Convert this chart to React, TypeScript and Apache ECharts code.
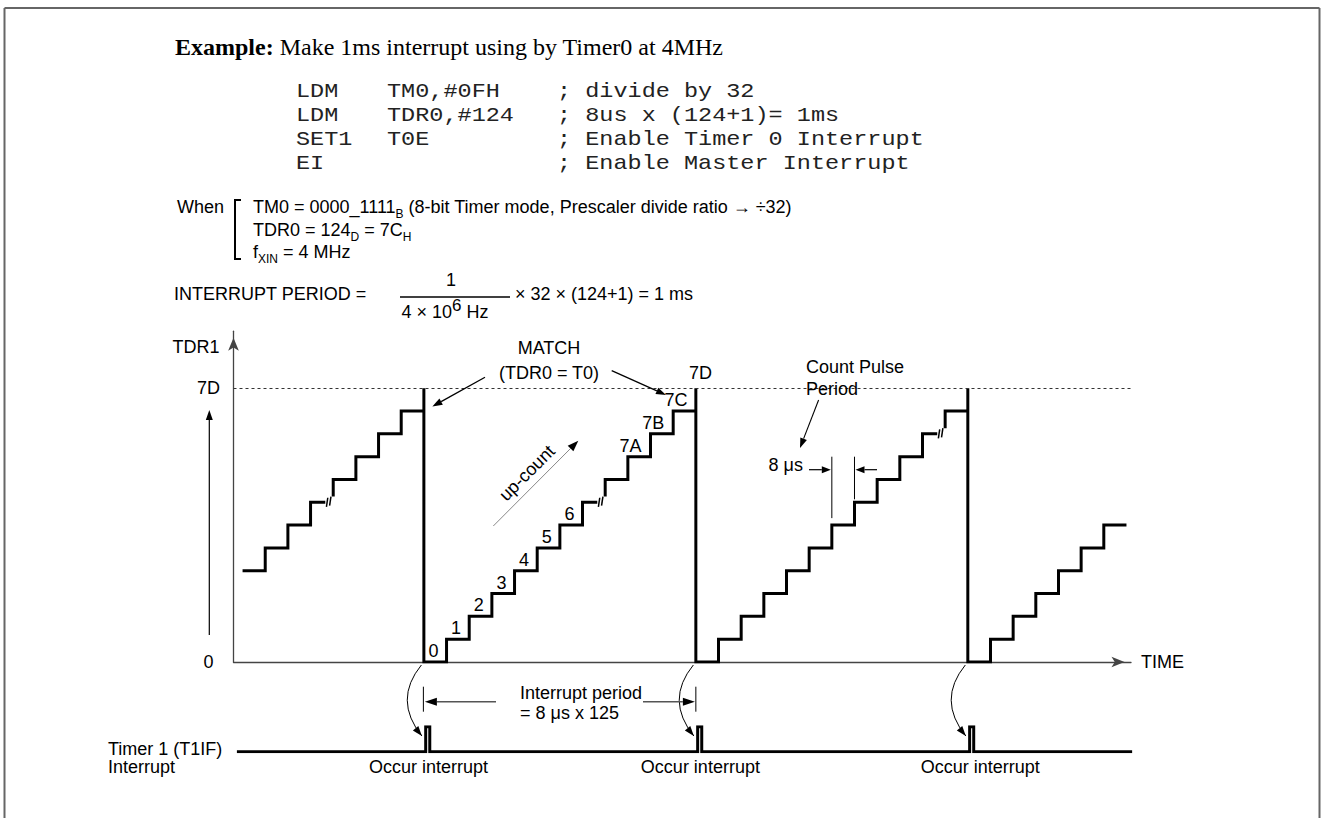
import React, { useEffect, useRef } from 'react';
import * as echarts from 'echarts';

const SANS = 'Liberation Sans, Arial, Helvetica, sans-serif';
const SERIF = 'Liberation Serif, Times New Roman, serif';
const MONO = 'Liberation Mono, Courier New, monospace';

// ---- axes (time in count-pulse periods, counter in steps) ----
const TIME_RANGE = [3.6, 43.2];
const LEVEL_RANGE = [0, 14.5];
const TOP_LEVEL = 12; // 7D
const Y_TICK_VALUES = [0, 12];
const Y_TICK_LABELS = ['0', '7D'];

// ---- counter runs ----
const RUN_STARTS = [4, 12, 24, 36];
const RUN1_LEVELS = [4, 5, 6, 7, 8, 9, 10, 11];
const RUN2_LEVELS = [0, 1, 2, 3, 4, 5, 6, 7, 8, 9, 10, 11];
const RUN3_LEVELS = [0, 1, 2, 3, 4, 5, 6, 7, 8, 9, 10, 11];
const RUN4_LEVELS = [0, 1, 2, 3, 4, 5, 6];
const RUN_BREAK_LEVEL = [7, 7, 10, -1];
const MATCH_TIMES = [12, 24, 36];

const STEP_LABELS = ['0', '1', '2', '3', '4', '5', '6', '7A', '7B', '7C'];
const STEP_LABEL_LEVELS = [0, 1, 2, 3, 4, 5, 6, 9, 10, 11];

// ---- interrupt flag ----
const INTERRUPT_SPAN = [3.75, 43.25];
const PULSE_DELAY = 0.08;
const PULSE_WIDTH = 0.18;
const OCCUR_LABEL_TIMES = [12.2, 24.2, 36.55];

// ---- texts ----
const HEADER = '{b|Example:} Make 1ms interrupt using by Timer0 at 4MHz';
const CODE_OPS = ['LDM', 'LDM', 'SET1', 'EI'];
const CODE_ARGS = ['TM0,#0FH', 'TDR0,#124', 'T0E', ''];
const CODE_COMMENTS = ['; divide by 32', '; 8us x (124+1)= 1ms', '; Enable Timer 0 Interrupt', '; Enable Master Interrupt'];
const WHEN_LINES = [
  'TM0 = 0000_1111{s|B} (8-bit Timer mode, Prescaler divide ratio \u2192 \u00f732)',
  'TDR0 = 124{s|D} = 7C{s|H}',
  'f{s|XIN} = 4 MHz',
];

function buildStairs() {
  const runs = [RUN1_LEVELS, RUN2_LEVELS, RUN3_LEVELS, RUN4_LEVELS];
  const pts: any[] = [];
  const marks: any[] = [];
  runs.forEach((levels, r) => {
    const t0 = RUN_STARTS[r];
    levels.forEach((lv, i) => {
      const ta = t0 + i;
      const tb = ta + 1;
      pts.push([ta, lv]);
      if (lv === RUN_BREAK_LEVEL[r]) {
        pts.push([tb - 0.35, lv], [tb - 0.2, '-'], [tb, lv + 0.25]);
        marks.push({ coords: [[tb - 0.3, lv - 0.2], [tb - 0.24, lv + 0.2]] });
        marks.push({ coords: [[tb - 0.16, lv - 0.15], [tb - 0.1, lv + 0.25]] });
      } else {
        pts.push([tb, lv]);
      }
    });
    if (r < MATCH_TIMES.length) {
      pts.push([MATCH_TIMES[r], TOP_LEVEL], [MATCH_TIMES[r], 0]);
    }
  });
  return { pts, marks };
}

function buildInterrupt() {
  const pts: any[] = [[INTERRUPT_SPAN[0], 0]];
  MATCH_TIMES.forEach((m) => {
    const a = m + PULSE_DELAY;
    const b = a + PULSE_WIDTH;
    pts.push([a, 0], [a, 1], [b, 1], [b, 0]);
  });
  pts.push([INTERRUPT_SPAN[1], 0]);
  return pts;
}

function buildOption() {
  const { pts, marks } = buildStairs();
  const labelData = STEP_LABELS.map((s, i) => ({
    name: s,
    value: [RUN_STARTS[1] + STEP_LABEL_LEVELS[i] + (s.length > 1 ? 0.12 : 0.42), STEP_LABEL_LEVELS[i]],
  }));
  labelData.push({ name: '7D', value: [MATCH_TIMES[1] + 0.2, TOP_LEVEL], label: { offset: [0, -15] } } as any);
  const axisLineStyle = { color: '#444', width: 1.3 };
  return {
    animation: false,
    backgroundColor: '#ffffff',
    grid: [
      { left: 233.5, top: 331.2, width: 897.5, height: 330.8 },
      { left: 233.5, top: 726.7, width: 897.5, height: 25 },
    ],
    xAxis: [
      {
        type: 'value', gridIndex: 0, min: TIME_RANGE[0], max: TIME_RANGE[1],
        axisLine: { show: true, onZero: false, symbol: ['none', 'arrow'], symbolSize: [8, 13], symbolOffset: [0, -6.5], lineStyle: axisLineStyle },
        axisTick: { show: false }, axisLabel: { show: false }, splitLine: { show: false },
        name: 'TIME', nameLocation: 'end', nameGap: 10,
        nameTextStyle: { fontSize: 18, color: '#000', fontFamily: SANS },
      },
      {
        type: 'value', gridIndex: 1, min: TIME_RANGE[0], max: TIME_RANGE[1], show: false,
      },
    ],
    yAxis: [
      {
        type: 'value', gridIndex: 0, min: LEVEL_RANGE[0], max: LEVEL_RANGE[1],
        axisLine: { show: true, onZero: false, symbol: ['none', 'arrow'], symbolSize: [8, 13], symbolOffset: [0, -6.5], lineStyle: axisLineStyle },
        axisTick: { show: false }, splitLine: { show: false },
        axisLabel: {
          show: true, customValues: Y_TICK_VALUES, margin: 25, align: 'center',
          fontSize: 18, color: '#000', fontFamily: SANS,
          formatter: (v: number) => Y_TICK_LABELS[Y_TICK_VALUES.indexOf(v)] ?? '',
        },
      },
      { type: 'value', gridIndex: 1, min: 0, max: 1, show: false },
    ],
    series: [
      {
        type: 'line', xAxisIndex: 0, yAxisIndex: 0, data: pts, showSymbol: false, symbol: 'none',
        connectNulls: false, silent: true,
        lineStyle: { color: '#000', width: 3, join: 'miter', cap: 'butt' },
        markLine: {
          silent: true, symbol: ['none', 'none'],
          label: { show: false },
          lineStyle: { type: [3, 3], color: '#333', width: 1 },
          data: [{ yAxis: TOP_LEVEL }],
        },
        z: 3,
      },
      {
        type: 'lines', coordinateSystem: 'cartesian2d', xAxisIndex: 0, yAxisIndex: 0, silent: true,
        data: marks, lineStyle: { color: '#000', width: 1.5, curveness: 0, opacity: 1 }, z: 4,
      },
      {
        type: 'scatter', xAxisIndex: 0, yAxisIndex: 0, data: labelData, symbolSize: 1, silent: true,
        itemStyle: { color: 'rgba(0,0,0,0)', opacity: 1 },
        label: {
          show: true, position: 'inside', offset: [0, -11], formatter: '{b}',
          fontSize: 18, color: '#000', fontFamily: SANS, opacity: 1,
          textBorderWidth: 0,
        },
        z: 5,
      },
      {
        type: 'line', xAxisIndex: 1, yAxisIndex: 1, data: buildInterrupt(), showSymbol: false, symbol: 'none',
        silent: true, lineStyle: { color: '#000', width: 3, join: 'miter', cap: 'butt' },
      },
    ],
  };
}

function arrow(x1: number, y1: number, x2: number, y2: number, opts: any = {}) {
  const { color = '#000', head = '#000', w = 1.2, len = 10, hw = 3.5 } = opts;
  const a = Math.atan2(y2 - y1, x2 - x1);
  const bx = x2 - len * Math.cos(a);
  const by = y2 - len * Math.sin(a);
  const nx = -Math.sin(a) * hw;
  const ny = Math.cos(a) * hw;
  return [
    { type: 'line', z: 20, shape: { x1, y1, x2: bx, y2: by }, style: { stroke: color, lineWidth: w } },
    { type: 'polygon', z: 20, shape: { points: [[x2, y2], [bx + nx, by + ny], [bx - nx, by - ny]] }, style: { fill: head } },
  ];
}

function txt(x: number, y: number, text: string, o: any = {}, extra: any = {}) {
  return {
    type: 'text', x, y, z: 20, ...extra,
    style: {
      text, fill: '#000', fontSize: 18, fontFamily: SANS,
      align: 'left', verticalAlign: 'middle', textAlign: o.align || 'left', textVerticalAlign: 'middle', ...o,
    },
  };
}

function line(x1: number, y1: number, x2: number, y2: number, stroke = '#000', lineWidth = 1) {
  return { type: 'line', z: 20, shape: { x1, y1, x2, y2 }, style: { stroke, lineWidth } };
}

const SUB = { fontSize: 12, fontFamily: SANS, fill: '#000', padding: [14, 0, 0, 0] };
const SUP = { fontSize: 17, fontFamily: SANS, fill: '#000', padding: [0, 0, 14, 0] };

function buildGraphics(chart: any) {
  const P = (t: number, l: number) => chart.convertToPixel({ gridIndex: 0 }, [t, l]) as number[];
  const Q = (t: number, v: number) => chart.convertToPixel({ gridIndex: 1 }, [t, v]) as number[];
  const g: any[] = [];

  // frame
  g.push(line(4.5, 8, 1319.5, 8, '#666', 2), line(4.5, 8, 4.5, 818, '#666', 2), line(1319.5, 8, 1319.5, 818, '#666', 2));

  // header
  g.push(txt(175, 47, HEADER, { fontSize: 24, fontFamily: SERIF, rich: { b: { fontSize: 24, fontFamily: SERIF, fontWeight: 'bold', fill: '#000' } } }));
  CODE_OPS.forEach((op, i) => {
    const y = 91 + 24 * i;
    const mono = { fontSize: 21, fontFamily: MONO, fill: '#222' };
    g.push(txt(296, y, op, mono, { scaleX: 1.12 }));
    if (CODE_ARGS[i]) g.push(txt(387, y, CODE_ARGS[i], mono, { scaleX: 1.12 }));
    g.push(txt(557, y, CODE_COMMENTS[i], mono, { scaleX: 1.12 }));
  });

  // When block
  g.push(txt(177, 207, 'When'));
  g.push({ type: 'polyline', z: 20, shape: { points: [[241, 200], [235, 200], [235, 259], [241, 259]] }, style: { stroke: '#000', lineWidth: 2, fill: null } });
  const whenY = [207, 230, 252];
  WHEN_LINES.forEach((s, i) => g.push(txt(253, whenY[i], s, { rich: { s: SUB } })));

  // interrupt period formula
  g.push(txt(174, 294, 'INTERRUPT PERIOD ='));
  g.push(txt(451, 280, '1', { align: 'center', textAlign: 'center' }));
  g.push(line(400, 297, 510, 297, '#000', 1.5));
  g.push(txt(445, 312, '4 \u00d7 10{p|6} Hz', { align: 'center', textAlign: 'center', rich: { p: SUP } }));
  g.push(txt(515, 294, '\u00d7 32 \u00d7 (124+1) = 1 ms'));

  // y-axis side decorations
  g.push(txt(196, 347, 'TDR1', { align: 'center', textAlign: 'center' }));
  g.push(...arrow(209.3, 635, 209.3, 410, { len: 10, hw: 3.5, w: 1.2 }));

  // MATCH annotation
  g.push(txt(549, 348, 'MATCH', { align: 'center', textAlign: 'center' }));
  g.push(txt(549, 372.5, '(TDR0 = T0)', { align: 'center', textAlign: 'center' }));
  const m1 = P(MATCH_TIMES[0], 11.2);
  g.push(...arrow(485, 377.3, m1[0] + 8.5, m1[1], { w: 1.3 }));
  g.push(...arrow(611.7, 370.7, 666, 395, { w: 1.3 }));

  // up-count
  g.push(txt(527, 473, 'up-count', { align: 'center', textAlign: 'center' }, { rotation: Math.PI / 4 }));
  g.push(...arrow(493.3, 526, 578.3, 440.7, { color: '#888', w: 1, len: 11, hw: 4 }));

  // count pulse period
  g.push(txt(806, 366.7, 'Count Pulse'));
  g.push(txt(806, 389, 'Period'));
  g.push(...arrow(818.6, 400, 800, 448, { w: 1.1 }));
  g.push(txt(803, 465, '8 \u03bcs', { align: 'right', textAlign: 'right' }));
  const c1 = P(30, 6);
  const c2 = P(31, 7);
  g.push(line(c1[0], 456.7, c1[0], c1[1] - 7, '#000', 1));
  g.push(line(c2[0], 456.7, c2[0], c2[1] - 3, '#000', 1));
  g.push(...arrow(809, 469.7, c1[0] - 1, 469.7, { len: 9, hw: 3.5 }));
  g.push(...arrow(877, 469.7, c2[0] + 1, 469.7, { len: 9, hw: 3.5 }));

  // curved arrows from match to interrupt pulse
  MATCH_TIMES.forEach((m) => {
    const [bx, by] = P(m, 0);
    const x1 = bx - 2.5, y1 = by + 3, cx = bx - 31, cy = by + 38, x2 = bx - 2, y2 = by + 74;
    g.push({ type: 'bezierCurve', z: 20, shape: { x1, y1, x2, y2, cpx1: cx, cpy1: cy }, style: { stroke: '#000', lineWidth: 1, fill: null } });
    const h = arrow(cx, cy, x2, y2, { len: 10, hw: 3.5 });
    g.push(h[1]);
  });

  // interrupt period dimension
  const i1 = P(MATCH_TIMES[0], 0);
  const i2 = P(MATCH_TIMES[1], 0);
  g.push(line(i1[0] - 0.5, 686.7, i1[0] - 0.5, 711.7, '#000', 1));
  g.push(line(i2[0], 686.7, i2[0], 711.7, '#000', 1));
  g.push(...arrow(496, 701.7, i1[0] + 1, 701.7, { color: '#555', w: 1.5, len: 12, hw: 4 }));
  g.push(...arrow(643, 701.7, i2[0] - 1, 701.7, { color: '#555', w: 1.5, len: 12, hw: 4 }));
  g.push(txt(520, 692.7, 'Interrupt period'));
  g.push(txt(520, 713.3, '= 8 \u03bcs x 125'));

  // interrupt signal labels
  g.push(txt(108, 749, 'Timer 1 (T1IF)'));
  g.push(txt(108, 767, 'Interrupt'));
  OCCUR_LABEL_TIMES.forEach((t) => {
    const [x, y] = Q(t, 0);
    g.push(txt(x, y + 15, 'Occur interrupt', { align: 'center', textAlign: 'center' }));
  });
  return g;
}

export default function App() {
  const ref = useRef<HTMLDivElement>(null);
  useEffect(() => {
    const chart = echarts.init(ref.current as HTMLDivElement, null, { renderer: 'svg' });
    chart.setOption(buildOption() as any);
    chart.setOption({ graphic: buildGraphics(chart) } as any);
    return () => chart.dispose();
  }, []);
  return (
    <div
      ref={ref}
      style={{ position: 'fixed', left: 0, top: 0, width: 1321, height: 818, background: '#fff' }}
    />
  );
}
